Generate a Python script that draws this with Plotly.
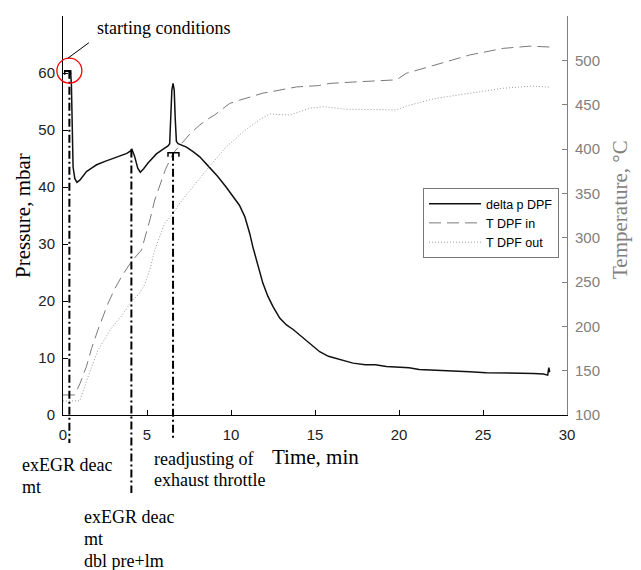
import plotly.graph_objects as go

# ---------------- data ----------------
time_dp = [0.1, 0.45, 0.5, 0.55, 0.6, 0.7, 0.83, 1.0, 1.2, 1.4, 1.7, 2.0, 2.5, 3.0, 3.5, 3.8,
           4.0, 4.1, 4.25, 4.45, 4.6, 4.8, 5.06, 5.3, 5.56, 5.9, 6.25, 6.35, 6.42, 6.48, 6.55,
           6.62, 6.68, 6.75, 6.85, 6.95, 7.35, 7.74, 8.14, 8.73, 9.2, 9.73, 10.12, 10.5, 10.82,
           11.11, 11.3, 11.51, 11.7, 11.9, 12.2, 12.5, 12.9, 13.3, 13.7, 14.1, 14.7, 15.28,
           15.8, 16.27, 16.8, 17.26, 18.0, 18.6, 19.25, 20.04, 20.6, 21.2, 22.2, 23.2, 24.2,
           25.2, 26.2, 27.2, 28.0, 28.6, 28.85, 28.92, 28.97]
delta_p = [60.3, 60.3, 58.0, 48.0, 43.5, 41.5, 40.8, 41.2, 42.0, 42.7, 43.3, 43.9, 44.5, 45.0,
           45.6, 45.9, 46.3, 46.6, 45.5, 43.3, 42.6, 43.2, 44.2, 45.0, 45.8, 46.5, 47.2, 47.6,
           52.0, 57.0, 58.2, 57.0, 52.0, 48.0, 47.6, 47.5, 47.0, 46.2, 45.3, 43.4, 41.9, 39.9,
           38.3, 36.8, 34.8, 31.9, 29.5, 27.2, 25.0, 23.1, 20.8, 19.0, 17.0, 15.8, 15.0, 14.0,
           12.4, 11.1, 10.3, 9.9, 9.5, 9.1, 8.8, 8.8, 8.5, 8.4, 8.3, 8.0, 7.9, 7.7, 7.6, 7.4,
           7.4, 7.3, 7.3, 7.2, 7.0, 8.3, 7.5]

time_tin = [0, 0.7, 1.0, 1.39, 1.7, 2.08, 2.68, 3.1, 3.48, 4.07, 4.67, 4.96, 5.2, 5.46, 5.76,
            6.1, 6.55, 7.14, 7.6, 8.14, 8.53, 9.0, 9.93, 10.5, 11.0, 11.9, 12.5, 13.9, 15.2,
            15.9, 17.26, 17.9, 19.25, 19.85, 20.44, 21.6, 22.2, 24.2, 26.2, 27.8, 29.0]
t_in = [122.6, 122.6, 135, 154.5, 175, 196, 226, 243, 256, 273, 286, 305, 322, 342.5, 359,
        377, 395, 408, 418, 427, 432.7, 438, 451.5, 455, 458, 463, 465, 470, 471.5, 474,
        475.5, 476, 477, 478, 485.4, 491.7, 494.7, 506, 513.5, 516, 515]

time_tout = [0, 1.0, 1.49, 2.08, 2.88, 3.5, 4.07, 4.5, 4.86, 5.2, 5.46, 6.05, 6.55, 6.95,
             7.74, 8.7, 9.73, 10.7, 11.7, 12.3, 13.5, 14.7, 15.5, 16.9, 18.5, 19.85, 20.44,
             21.0, 22.2, 24.2, 26.2, 27.98, 29.0]
t_out = [115.8, 116, 143, 173, 198, 212, 228, 236, 247, 266, 286, 316, 327.5, 339, 357.5,
         380, 402.6, 419, 433, 439.5, 438.3, 446, 447.7, 444.8, 444.5, 444, 448.5, 451.5,
         457.2, 462.8, 468.5, 471, 469.6]

series_names = ["delta p DPF", "T DPF in", "T DPF out"]

x_ticks = [0, 5, 10, 15, 20, 25, 30]
x_range = [0, 30]
y_range = [0, 70]
y2_range = [100, 550]

event_times = [0.38, 4.07, 6.55]      # min
event_tops = [60.4, 46.6, 46.0]       # mbar

bracket_spans = [(0.1, 0.45, 60.4), (6.25, 6.9, 46.0)]  # (t0, t1, p)

# ---------------- figure ----------------
OFF = 8                      # page body margin of the html page
W, H = 641 - OFF, 570 - OFF
ML, MR, MT, MB = 63 - OFF, 74, 16 - OFF, 155
PW, PH = W - ML - MR, H - MT - MB


def xp(t):
    return (t - x_range[0]) / (x_range[1] - x_range[0])


def yp(p):
    return (p - y_range[0]) / (y_range[1] - y_range[0])


def px2x(px):
    return (px - OFF - ML) / PW


def px2y(py):
    return (H - MB - (py - OFF)) / PH


SANS = "Liberation Sans, Arial, sans-serif"
SERIF = "Liberation Serif, Times New Roman, serif"
GREY = "#808080"

fig = go.Figure()
fig.add_trace(go.Scatter(x=time_dp, y=delta_p, name=series_names[0], mode="lines",
                         line=dict(color="#111111", width=1.5), yaxis="y"))
fig.add_trace(go.Scatter(x=time_tin, y=t_in, name=series_names[1], mode="lines",
                         line=dict(color="#7a7a7a", width=1, dash="12px,6px"), yaxis="y2"))
fig.add_trace(go.Scatter(x=time_tout, y=t_out, name=series_names[2], mode="lines",
                         line=dict(color="#9a9a9a", width=1, dash="1px,2px"), yaxis="y2"))

shapes = []
bottoms_px = [443, 493, 439]
for t, top, bpx in zip(event_times, event_tops, bottoms_px):
    shapes.append(dict(type="line", xref="x", yref="paper", x0=t, x1=t,
                       y0=yp(top), y1=px2y(bpx),
                       line=dict(color="black", width=2, dash="8px,3px,2px,3px")))
for t0, t1, p in bracket_spans:
    shapes.append(dict(type="path", xref="x", yref="y",
                       path=f"M{t0},{p-0.7} L{t0},{p} L{t1},{p} L{t1},{p-0.7}",
                       line=dict(color="black", width=1.5)))
# red circle around starting conditions
shapes.append(dict(type="circle", xref="paper", yref="paper",
                   xsizemode="pixel", ysizemode="pixel",
                   xanchor=xp(0.38), yanchor=yp(60.4),
                   x0=-12.5, x1=12.5, y0=-12.5, y1=12.5,
                   line=dict(color="red", width=1.3)))
shapes.append(dict(type="line", xref="paper", yref="paper",
                   xsizemode="pixel", ysizemode="pixel",
                   xanchor=xp(0.38), yanchor=yp(60.4),
                   x0=-1.5, x1=19.5, y0=12.5, y1=28,
                   line=dict(color="black", width=1)))

annotations = []


def text(t, xpx, ypx, size=18, color="black", angle=0, xanchor="left"):
    annotations.append(dict(text=t, xref="paper", yref="paper", x=px2x(xpx), y=px2y(ypx),
                            xanchor=xanchor, yanchor="middle", showarrow=False,
                            textangle=angle, font=dict(family=SERIF, size=size, color=color)))


text("starting conditions", 95, 28)
text("exEGR deac", 20, 465)
text("mt", 20, 487)
text("readjusting of", 152, 459)
text("exhaust throttle", 152, 480)
text("Time, min", 270, 457, size=21)
text("exEGR deac", 82, 517)
text("mt", 82, 539)
text("dbl pre+lm", 82, 561)
text("Pressure, mbar", 23, 216, size=21, angle=-90, xanchor="center")
text("Temperature, °C", 620, 210, size=21, color=GREY, angle=-90, xanchor="center")

fig.update_layout(
    width=W, height=H,
    margin=dict(l=ML, r=MR, t=MT, b=MB, pad=0),
    plot_bgcolor="white", paper_bgcolor="white",
    xaxis=dict(range=x_range, tickvals=x_ticks, ticks="inside", ticklen=5, tickcolor="black",
               showline=True, linecolor="black", linewidth=1, showgrid=False, zeroline=False,
               tickfont=dict(family=SANS, size=15, color="#222222"), ticklabelstandoff=6),
    yaxis=dict(range=y_range, dtick=10, ticks="inside", ticklen=5, tickcolor="black",
               showline=True, linecolor="black", linewidth=1, showgrid=False, zeroline=False,
               tickfont=dict(family=SANS, size=15, color="#222222"), ticklabelstandoff=4),
    yaxis2=dict(range=y2_range, dtick=50, overlaying="y", side="right", anchor="x",
                ticks="inside", ticklen=5, tickcolor=GREY, showline=True, linecolor=GREY,
                linewidth=1, showgrid=False, zeroline=False,
                tickfont=dict(family=SANS, size=15, color=GREY), ticklabelstandoff=4),
    legend=dict(x=px2x(423), y=px2y(188), xanchor="left", yanchor="top", bgcolor="white",
                bordercolor="#777777", borderwidth=1, itemwidth=52,
                font=dict(family=SANS, size=12.5, color="black"), tracegroupgap=0),
    shapes=shapes,
    annotations=annotations,
)

fig.write_html("out.html")
